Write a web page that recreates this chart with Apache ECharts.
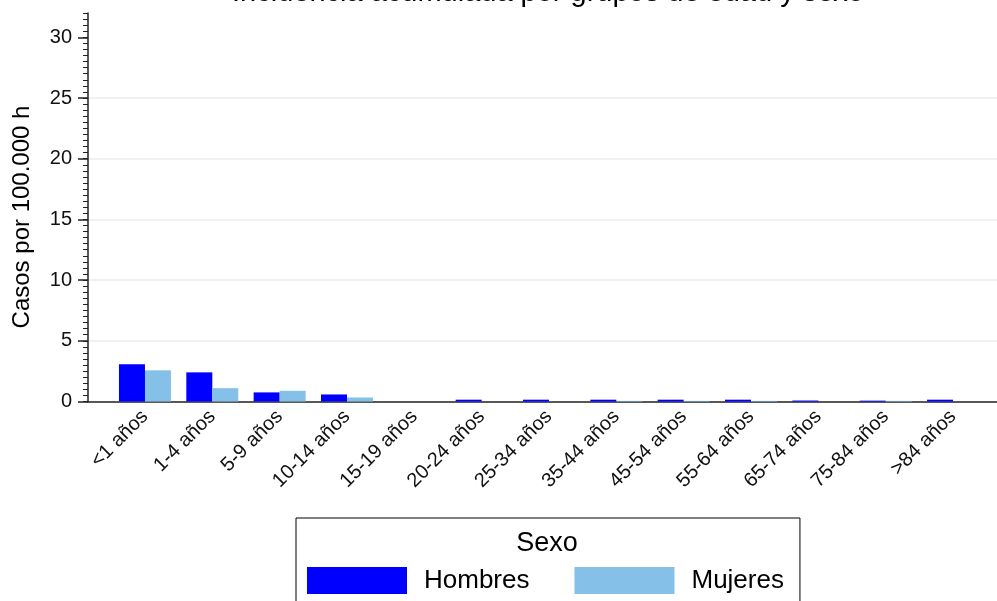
<!DOCTYPE html>
<html>
<head>
<meta charset="utf-8">
<script src="https://cdn.jsdelivr.net/npm/echarts@6/dist/echarts.min.js"></script>
<style>
html,body{margin:0;padding:0;background:#fff;}
#c{width:997px;height:601px;}
</style>
</head>
<body>
<div id="c"></div>
<script>
const categories = ['<1 años','1-4 años','5-9 años','10-14 años','15-19 años','20-24 años','25-34 años','35-44 años','45-54 años','55-64 años','65-74 años','75-84 años','>84 años'];
const hombres = [3.07, 2.40, 0.75, 0.58, 0, 0.15, 0.15, 0.15, 0.15, 0.15, 0.08, 0.07, 0.15];
const mujeres = [2.57, 1.10, 0.88, 0.33, 0, 0, 0, 0.05, 0.05, 0.05, 0, 0.05, 0];
const yTicks = [0, 5, 10, 15, 20, 25, 30];
const titleText = 'Incidencia acumulada por grupos de edad y sexo';
const yName = 'Casos por 100.000 h';
const legendTitle = 'Sexo';

const FONT = 'Liberation Sans, Arial, sans-serif';
const YMAX = 32;
const chart = echarts.init(document.getElementById('c'), null, {renderer: 'canvas'});

chart.setOption({
  backgroundColor: '#fff',
  animation: false,
  textStyle: {fontFamily: FONT},
  graphic: [
    {type: 'text', x: 548, y: 7, z: 10, style: {text: titleText, fontSize: 29, fontFamily: FONT, fill: '#000', textAlign: 'center', textVerticalAlign: 'bottom'}},
    {type: 'text', x: 22, y: 217, rotation: Math.PI / 2, z: 10, style: {text: yName, fontSize: 24, fontFamily: FONT, fill: '#000', textAlign: 'center', textVerticalAlign: 'middle'}},
    {type: 'text', x: 547, y: 544, z: 10, style: {text: legendTitle, fontSize: 27, fontFamily: FONT, fill: '#000', textAlign: 'center', textVerticalAlign: 'middle'}}
  ],
  legend: {
    left: 296, top: 518,
    padding: [49, 16, 20, 11],
    borderColor: '#000', borderWidth: 1,
    itemWidth: 100, itemHeight: 27, itemGap: 45,
    icon: 'rect',
    data: ['Hombres', 'Mujeres'],
    textStyle: {fontSize: 26, color: '#000', fontFamily: FONT, padding: [0, 0, 0, 12]}
  },
  grid: [
    {left: 111.3, right: 10.3, top: 13, bottom: 199.5},
    {left: 88, right: 0, top: 13, bottom: 199.5}
  ],
  xAxis: [
    {type: 'category', gridIndex: 0, data: categories, boundaryGap: true,
     axisLine: {show: false}, axisTick: {show: false},
     axisLabel: {rotate: 45, fontSize: 20, color: '#111', margin: 12, interval: 0, fontFamily: FONT}},
    {type: 'value', gridIndex: 1, min: 0, max: 1, show: true,
     axisLine: {show: true, onZero: false, lineStyle: {color: '#222', width: 1.5}},
     axisTick: {show: false}, axisLabel: {show: false}, splitLine: {show: false}}
  ],
  yAxis: [
    {type: 'value', gridIndex: 0, min: 0, max: YMAX, show: false},
    {type: 'value', gridIndex: 1, min: 0, max: YMAX, interval: 5, position: 'left',
     axisLine: {show: true, lineStyle: {color: '#222', width: 1.5}},
     axisTick: {show: true, length: 10, customValues: yTicks, lineStyle: {color: '#222', width: 1.5}},
     axisLabel: {fontSize: 20, color: '#111', margin: 16, customValues: yTicks, fontFamily: FONT},
     splitLine: {show: true, showMinLine: false, showMaxLine: false, lineStyle: {color: '#E9EEF1', width: 1.5}}},
    {type: 'value', gridIndex: 1, min: 0, max: YMAX, interval: 0.5, position: 'left',
     axisLine: {show: false}, axisLabel: {show: false}, splitLine: {show: false},
     axisTick: {show: true, length: 5, lineStyle: {color: '#222', width: 1}}}
  ],
  series: [
    {name: 'Hombres', type: 'bar', xAxisIndex: 0, yAxisIndex: 0, data: hombres,
     barWidth: 26, barGap: '0%', itemStyle: {color: '#0000FF'}},
    {name: 'Mujeres', type: 'bar', xAxisIndex: 0, yAxisIndex: 0, data: mujeres,
     barWidth: 26, barGap: '0%', itemStyle: {color: '#85C0E9'}}
  ]
});
</script>
</body>
</html>
